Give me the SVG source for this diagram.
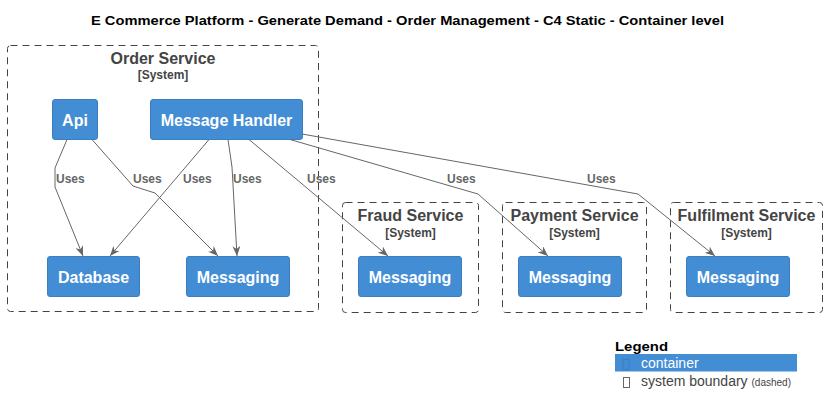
<svg xmlns="http://www.w3.org/2000/svg" width="827" height="415" viewBox="0 0 827 415">
<style>
  text { font-family: "Liberation Sans", Arial, sans-serif; }
  .title { font-size: 12px; font-weight: bold; fill: #000; }
  .bnd { fill: none; stroke: #444444; stroke-width: 1; stroke-dasharray: 7 5; }
  .bname { font-size: 16px; font-weight: bold; fill: #444444; text-anchor: middle; }
  .btype { font-size: 12px; font-weight: bold; fill: #444444; text-anchor: middle; }
  .box { fill: #438DD5; stroke: #3C7FC0; stroke-width: 1; }
  .blabel { font-size: 16px; font-weight: bold; fill: #FFFFFF; text-anchor: middle; }
  .edge { fill: none; stroke: #666666; stroke-width: 1; marker-end: url(#arrow); }
  .elabel { font-size: 12px; font-weight: bold; fill: #666666; }
  .lg-title { font-size: 13px; font-weight: bold; fill: #000; }
  .lg-text { font-size: 14px; }
</style>
<defs>
  <marker id="arrow" viewBox="0 0 10 8" refX="10" refY="4" markerWidth="10" markerHeight="8" markerUnits="userSpaceOnUse" orient="auto">
    <path d="M0,0 L10,4 L0,8 L3,4 Z" fill="#666666"/>
  </marker>
</defs>
<rect width="827" height="415" fill="#FFFFFF"/>
<text class="title" x="91" y="24.5" textLength="633" lengthAdjust="spacingAndGlyphs">E Commerce Platform - Generate Demand - Order Management - C4 Static - Container level</text>

<g id="order-service">
  <rect class="bnd" x="7.5" y="45.5" width="311" height="266" rx="3"/>
  <text class="bname" x="163" y="64">Order Service</text>
  <text class="btype" x="163" y="79">[System]</text>
</g>
<g id="fraud-service">
  <rect class="bnd" x="342.5" y="202.5" width="136" height="110" rx="3"/>
  <text class="bname" x="410.5" y="221">Fraud Service</text>
  <text class="btype" x="410.5" y="237">[System]</text>
</g>
<g id="payment-service">
  <rect class="bnd" x="502.5" y="202.5" width="144" height="110" rx="3"/>
  <text class="bname" x="574.5" y="221">Payment Service</text>
  <text class="btype" x="574.5" y="237">[System]</text>
</g>
<g id="fulfilment-service">
  <rect class="bnd" x="670.5" y="202.5" width="152" height="110" rx="3"/>
  <text class="bname" x="746.5" y="221">Fulfilment Service</text>
  <text class="btype" x="746.5" y="237">[System]</text>
</g>

<g id="api">
  <rect class="box" x="52.5" y="99.5" width="45" height="40" rx="2.5"/>
  <text class="blabel" x="75" y="125.5">Api</text>
</g>
<g id="message-handler">
  <rect class="box" x="150.5" y="99.5" width="152" height="40" rx="2.5"/>
  <text class="blabel" x="226.5" y="125.5">Message Handler</text>
</g>
<g id="database">
  <rect class="box" x="47.5" y="256.5" width="92" height="40" rx="2.5"/>
  <text class="blabel" x="93.5" y="282.5">Database</text>
</g>
<g id="order-messaging">
  <rect class="box" x="186.5" y="256.5" width="103" height="40" rx="2.5"/>
  <text class="blabel" x="238" y="282.5">Messaging</text>
</g>
<g id="fraud-messaging">
  <rect class="box" x="358.5" y="256.5" width="103" height="40" rx="2.5"/>
  <text class="blabel" x="410" y="282.5">Messaging</text>
</g>
<g id="payment-messaging">
  <rect class="box" x="518.5" y="256.5" width="103" height="40" rx="2.5"/>
  <text class="blabel" x="570" y="282.5">Messaging</text>
</g>
<g id="fulfilment-messaging">
  <rect class="box" x="686.5" y="256.5" width="103" height="40" rx="2.5"/>
  <text class="blabel" x="738" y="282.5">Messaging</text>
</g>

<g id="connectors">
  <path class="edge" d="M67,139.5 L55,168 L55,187 L83,256"/>
  <text class="elabel" x="56" y="183">Uses</text>
  <path class="edge" d="M92,139.5 L133,186 L155,193 L218,256"/>
  <text class="elabel" x="133" y="183">Uses</text>
  <path class="edge" d="M209,139.5 L110,256"/>
  <text class="elabel" x="183" y="183">Uses</text>
  <path class="edge" d="M228,139.5 L232,167 L237,256"/>
  <text class="elabel" x="233" y="183">Uses</text>
  <path class="edge" d="M249,139.5 L388,256"/>
  <text class="elabel" x="307" y="183">Uses</text>
  <path class="edge" d="M290,139.5 L478,194 L548,256"/>
  <text class="elabel" x="447" y="183">Uses</text>
  <path class="edge" d="M302,134 L638,194 L715,256"/>
  <text class="elabel" x="587" y="183">Uses</text>
</g>

<g id="legend">
  <text class="lg-title" x="615" y="351" textLength="53" lengthAdjust="spacingAndGlyphs">Legend</text>
  <rect x="615" y="354" width="182" height="17.5" fill="#438DD5"/>
  <rect x="623" y="359.5" width="6" height="10" fill="none" stroke="#3C7FC0" stroke-width="1"/>
  <text class="lg-text" x="641" y="367.5" fill="#FFFFFF">container</text>
  <rect x="623.5" y="377.5" width="6" height="10" fill="none" stroke="#666666" stroke-width="1"/>
  <text class="lg-text" x="641" y="385.5" fill="#444444">system boundary <tspan font-size="10">(dashed)</tspan></text>
</g>
</svg>
